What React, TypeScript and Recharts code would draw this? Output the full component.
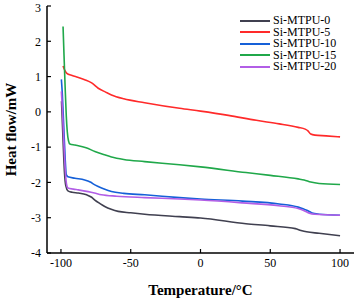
import { LineChart, Line, XAxis, YAxis, Legend } from "recharts";

// DSC curves: [temperature °C, heat flow mW]
const mtpu0 = [
  [-99.6, 0.3], [-98.5, -0.8], [-97.5, -1.7], [-96.5, -2.1], [-95, -2.24], [-92, -2.28],
  [-87.6, -2.3], [-81.6, -2.35], [-78, -2.42], [-75.7, -2.5], [-72, -2.6], [-68.6, -2.68],
  [-64, -2.76], [-59, -2.82], [-50, -2.86], [-40, -2.9], [-15, -2.97], [0, -3.01],
  [32.6, -3.17], [50, -3.23], [68, -3.31], [72, -3.36], [76, -3.4], [85, -3.44], [100, -3.51],
];
const mtpu5 = [
  [-98.5, 1.3], [-97.5, 1.2], [-96, 1.1], [-92, 1.03], [-88, 0.98], [-83, 0.91], [-78, 0.82],
  [-73.3, 0.67], [-68, 0.56], [-63.8, 0.48], [-55, 0.37], [-40, 0.26], [-15, 0.1], [0, 0.02],
  [20, -0.1], [40, -0.24], [56.4, -0.34], [70, -0.44], [75, -0.49], [77, -0.54], [79, -0.63],
  [82, -0.66], [90, -0.68], [100, -0.71],
];
const mtpu10 = [
  [-99.7, 0.92], [-99, 0.5], [-98, -0.4], [-97, -1.3], [-96.2, -1.78], [-95, -1.84], [-90, -1.88],
  [-83, -1.93], [-79, -1.99], [-75.7, -2.07], [-70, -2.17], [-63.8, -2.26], [-55, -2.31],
  [-40, -2.35], [-15, -2.43], [0, -2.47], [30, -2.53], [56.4, -2.61], [70, -2.7], [74.3, -2.76],
  [77, -2.8], [80, -2.87], [85, -2.9], [100, -2.93],
];
const mtpu15 = [
  [-98.5, 2.42], [-97.8, 1.6], [-97, 0.7], [-96.2, -0.1], [-95.5, -0.55], [-94.6, -0.82],
  [-93.6, -0.91], [-90, -0.94], [-87.6, -0.96], [-82, -1.02], [-75.7, -1.12], [-70, -1.2],
  [-63.8, -1.28], [-55, -1.35], [-40, -1.41], [-15, -1.5], [0, -1.56], [32.6, -1.72], [50, -1.8],
  [70, -1.9], [74.3, -1.93], [79, -1.99], [85, -2.03], [100, -2.06],
];
const mtpu20 = [
  [-99.7, 0.58], [-99, 0.1], [-98, -0.8], [-97, -1.6], [-96, -2.05], [-95, -2.16], [-91, -2.19],
  [-87.6, -2.21], [-80.5, -2.26], [-76, -2.3], [-71, -2.35], [-60, -2.39], [-40, -2.43],
  [-15, -2.47], [0, -2.5], [30, -2.58], [56, -2.66], [70, -2.74], [74.3, -2.8], [78, -2.87],
  [82, -2.9], [100, -2.93],
];

const xTicks = [-100, -50, 0, 50, 100];
const yTicks = [-4, -3, -2, -1, 0, 1, 2, 3];

const series = [
  { name: "Si-MTPU-0", points: mtpu0, color: "#404050" },
  { name: "Si-MTPU-5", points: mtpu5, color: "#ff2a2a" },
  { name: "Si-MTPU-10", points: mtpu10, color: "#1560d8" },
  { name: "Si-MTPU-15", points: mtpu15, color: "#20a84a" },
  { name: "Si-MTPU-20", points: mtpu20, color: "#b25ee6" },
];

const font = "'Liberation Serif', 'Times New Roman', serif";

// keeps the legend in series order instead of Recharts' alphabetical sort
function LegendBox() {
  return (
    <div style={{ fontFamily: font, fontSize: 12, lineHeight: "11.5px", color: "#000" }}>
      {series.map((s) => (
        <div key={s.name} style={{ display: "flex", alignItems: "center", height: 11.5 }}>
          <span style={{ display: "inline-block", width: 30, height: 2, background: s.color, marginRight: 3 }} />
          <span>{s.name}</span>
        </div>
      ))}
    </div>
  );
}

export default function App() {
  return (
    <div style={{ position: "absolute", left: 0, top: 0, background: "#fff" }}>
      <LineChart width={357} height={300} margin={{ top: 6, right: 3, left: 0, bottom: 0 }}>
        <XAxis
          dataKey="x"
          type="number"
          domain={[-110, 110]}
          ticks={xTicks}
          height={47}
          axisLine={{ stroke: "#000", strokeWidth: 1.5 }}
          tickLine={{ stroke: "#000", strokeWidth: 1.2 }}
          tickSize={-4}
          tickMargin={9}
          tick={{ fill: "#000", fontSize: 12, fontFamily: font }}
          label={{
            value: "Temperature/°C",
            position: "insideBottom",
            offset: 5,
            fill: "#000",
            fontSize: 15,
            fontWeight: "bold",
            fontFamily: font,
          }}
        />
        <XAxis
          xAxisId="top"
          orientation="top"
          type="number"
          domain={[-110, 110]}
          height={0}
          tick={false}
          tickLine={false}
          axisLine={{ stroke: "#000", strokeWidth: 1.5 }}
        />
        <YAxis
          type="number"
          domain={[-4, 3]}
          ticks={yTicks}
          width={47}
          axisLine={{ stroke: "#000", strokeWidth: 1.5 }}
          tickLine={{ stroke: "#000", strokeWidth: 1.2 }}
          tickSize={-4}
          tickMargin={10}
          tick={{ fill: "#000", fontSize: 12, fontFamily: font }}
          label={{
            value: "Heat flow/mW",
            angle: -90,
            position: "insideLeft",
            offset: 11,
            fill: "#000",
            fontSize: 15,
            fontWeight: "bold",
            fontFamily: font,
            style: { textAnchor: "middle" },
          }}
        />
        <YAxis
          yAxisId="right"
          orientation="right"
          type="number"
          domain={[-4, 3]}
          width={0}
          tick={false}
          tickLine={false}
          axisLine={{ stroke: "#000", strokeWidth: 1.5 }}
        />
        <Legend
          layout="vertical"
          align="center"
          verticalAlign="middle"
          content={<LegendBox />}
          wrapperStyle={{ position: "absolute", left: 240, top: 15, width: "auto" }}
        />
        {series.map((s) => (
          <Line
            key={s.name}
            name={s.name}
            data={s.points.map(([x, y]) => ({ x, y }))}
            dataKey="y"
            type="monotone"
            stroke={s.color}
            strokeWidth={1.6}
            dot={false}
            isAnimationActive={false}
          />
        ))}
      </LineChart>
    </div>
  );
}
